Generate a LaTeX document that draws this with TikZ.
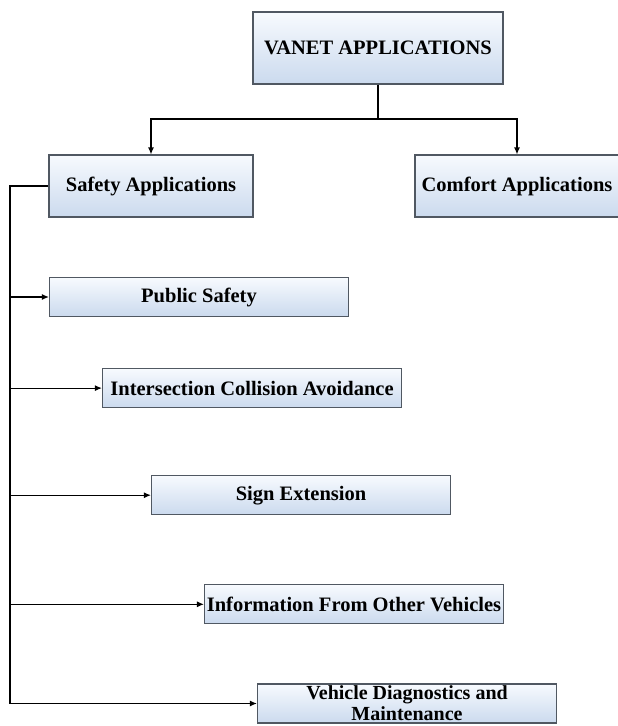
\documentclass[tikz,border=0pt]{standalone}
\usepackage{fontspec}
\setmainfont{Liberation Serif}
\usepackage{tikz}
\usetikzlibrary{positioning}
\usetikzlibrary{arrows.meta}
\definecolor{boxtop}{RGB}{247,250,254}
\definecolor{boxbottom}{RGB}{203,218,238}
\definecolor{boxline}{RGB}{80,88,98}
\tikzset {
  % shaded application box
  appbox/.style = {draw=boxline, line width=1.1pt, top color=boxtop, bottom color=boxbottom,
    inner sep=0pt, font=\fontsize{20.5}{22}\selectfont\bfseries, align=center},
  % the two category boxes
  catbox/.style = {appbox, minimum width=204pt, minimum height=62pt},
  % the five safety boxes share one size
  safebox/.style = {appbox, minimum width=299pt, minimum height=39pt},
  % connector lines
  link/.style = {line width=1.2pt},
  arr/.style = {link, -{Latex[length=7pt,width=6pt]}},
}
\begin{document}
\begin{tikzpicture}[x=1pt, y=-1pt]
      \useasboundingbox (0,0) rectangle (618,726);

      \node[appbox, minimum width=250pt, minimum height=72pt] (vanet) at (378,48) {VANET APPLICATIONS};

      \node[catbox] (safety) at (151,186) {Safety Applications};

      \node[catbox] (comfort) at (517,186) {Comfort Applications};

      \node[safebox] (ps) at (199,297) {Public Safety};

      \node[safebox] (ica) [below=51pt of ps, xshift=53pt] {Intersection Collision Avoidance};

      \node[safebox] (se) [below=67pt of ica, xshift=49pt] {Sign Extension};

      \node[safebox] (ifov) [below=69pt of se, xshift=53pt] {Information From Other Vehicles};

      \node[safebox, font=\fontsize{20}{21}\selectfont\bfseries] (vdm) at (407,703.5) {Vehicle Diagnostics and\\Maintenance};

      \coordinate (split) at (378,119);
      \coordinate (bus) at (10,186);

      \draw[link] (vanet) -- (split);
      \draw[arr] (split) -| (safety);
      \draw[arr] (split) -| (comfort);

      \draw[arr] (safety.west) -- (bus) |- (vdm.west);
      \foreach \n in {ps,ica,se,ifov}
        \draw[arr] (bus |- \n.west) -- (\n.west);
    \end{tikzpicture}
\end{document}
